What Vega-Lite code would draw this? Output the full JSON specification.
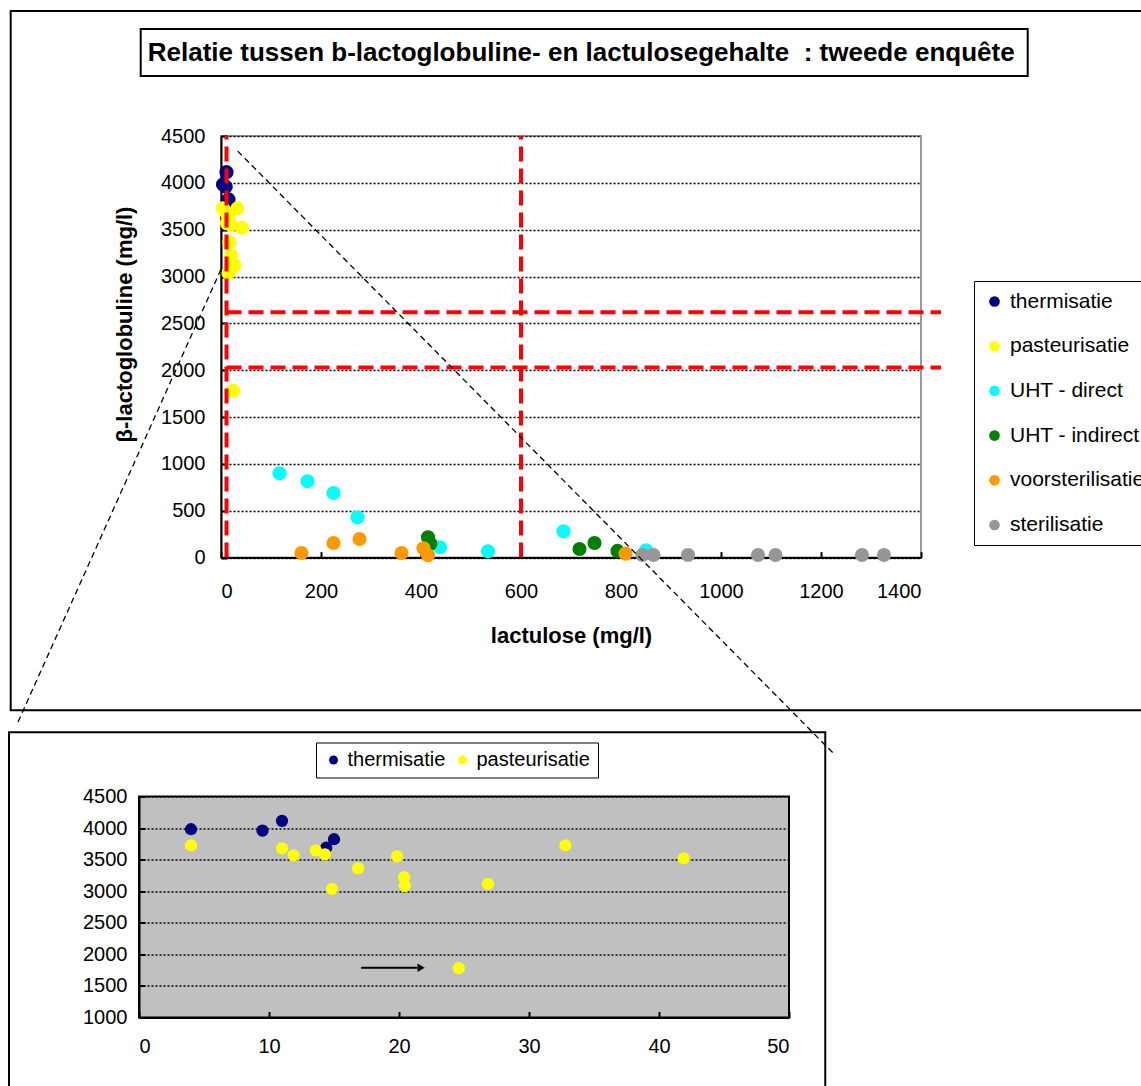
{
  "$schema": "https://vega.github.io/schema/vega-lite/v6.json",
  "background": "white",
  "padding": {"left": 7, "top": 9, "right": 0, "bottom": 0},
  "spacing": -25.5,
  "config": {
    "font": "Liberation Sans",
    "axis": {"labelColor": "black", "titleColor": "black", "labelFont": "Liberation Sans", "titleFont": "Liberation Sans", "labelOverlap": false, "format": "d"},
    "legend": {"labelFont": "Liberation Sans", "labelColor": "black"}
  },
  "datasets": {
    "milk": [
      {"lactulose": 4.0, "blg": 3982, "type": "thermisatie"},
      {"lactulose": 9.5, "blg": 3959, "type": "thermisatie"},
      {"lactulose": 11.0, "blg": 4114, "type": "thermisatie"},
      {"lactulose": 14.4, "blg": 3689, "type": "thermisatie"},
      {"lactulose": 15.0, "blg": 3823, "type": "thermisatie"},
      {"lactulose": 4.0, "blg": 3727, "type": "pasteurisatie"},
      {"lactulose": 11.0, "blg": 3680, "type": "pasteurisatie"},
      {"lactulose": 11.9, "blg": 3568, "type": "pasteurisatie"},
      {"lactulose": 13.6, "blg": 3648, "type": "pasteurisatie"},
      {"lactulose": 14.3, "blg": 3584, "type": "pasteurisatie"},
      {"lactulose": 14.85, "blg": 3037, "type": "pasteurisatie"},
      {"lactulose": 16.85, "blg": 3362, "type": "pasteurisatie"},
      {"lactulose": 19.85, "blg": 3552, "type": "pasteurisatie"},
      {"lactulose": 20.4, "blg": 3223, "type": "pasteurisatie"},
      {"lactulose": 20.45, "blg": 3085, "type": "pasteurisatie"},
      {"lactulose": 24.6, "blg": 1780, "type": "pasteurisatie"},
      {"lactulose": 26.85, "blg": 3117, "type": "pasteurisatie"},
      {"lactulose": 32.8, "blg": 3727, "type": "pasteurisatie"},
      {"lactulose": 41.9, "blg": 3521, "type": "pasteurisatie"},
      {"lactulose": 117, "blg": 900, "type": "UHT - direct"},
      {"lactulose": 173, "blg": 814, "type": "UHT - direct"},
      {"lactulose": 225, "blg": 690, "type": "UHT - direct"},
      {"lactulose": 273, "blg": 430, "type": "UHT - direct"},
      {"lactulose": 438, "blg": 110, "type": "UHT - direct"},
      {"lactulose": 534, "blg": 67, "type": "UHT - direct"},
      {"lactulose": 685, "blg": 281, "type": "UHT - direct"},
      {"lactulose": 850, "blg": 78, "type": "UHT - direct"},
      {"lactulose": 414, "blg": 217, "type": "UHT - indirect"},
      {"lactulose": 419, "blg": 148, "type": "UHT - indirect"},
      {"lactulose": 717, "blg": 92, "type": "UHT - indirect"},
      {"lactulose": 747, "blg": 156, "type": "UHT - indirect"},
      {"lactulose": 793, "blg": 71, "type": "UHT - indirect"},
      {"lactulose": 161, "blg": 49, "type": "voorsterilisatie"},
      {"lactulose": 225, "blg": 156, "type": "voorsterilisatie"},
      {"lactulose": 277, "blg": 199, "type": "voorsterilisatie"},
      {"lactulose": 361, "blg": 49, "type": "voorsterilisatie"},
      {"lactulose": 405, "blg": 99, "type": "voorsterilisatie"},
      {"lactulose": 414, "blg": 25, "type": "voorsterilisatie"},
      {"lactulose": 809, "blg": 42, "type": "voorsterilisatie"},
      {"lactulose": 843, "blg": 28, "type": "sterilisatie"},
      {"lactulose": 865, "blg": 28, "type": "sterilisatie"},
      {"lactulose": 934, "blg": 28, "type": "sterilisatie"},
      {"lactulose": 1074, "blg": 28, "type": "sterilisatie"},
      {"lactulose": 1109, "blg": 28, "type": "sterilisatie"},
      {"lactulose": 1282, "blg": 28, "type": "sterilisatie"},
      {"lactulose": 1326, "blg": 28, "type": "sterilisatie"}
    ],
    "lactuloseLimits": [{"lactulose": 11}, {"lactulose": 600}],
    "blgLimits": [{"blg": 2030}, {"blg": 2620}]
  },
  "resolve": {"scale": {"x": "independent", "y": "independent", "color": "independent"}, "legend": {"color": "independent"}},
  "vconcat": [
    {
      "spacing": -132,
      "resolve": {"scale": {"x": "independent", "y": "independent", "color": "independent"}, "legend": {"color": "independent"}},
      "hconcat": [
        {
          "width": 1,
          "height": 1,
          "view": {"stroke": null},
          "data": {"values": []},
          "mark": "point",
          "encoding": {}
        },
        {
          "width": 700,
          "height": 421.6,
          "view": {"stroke": "#999999", "strokeWidth": 2},
          "layer": [
            {
              "data": {"name": "milk"},
              "mark": {"type": "circle", "size": 200, "opacity": 1},
              "encoding": {
                "x": {
                  "field": "lactulose", "type": "quantitative",
                  "scale": {"domain": [0, 1400], "nice": false},
                  "axis": {
                    "title": "lactulose (mg/l)", "values": [0, 200, 400, 600, 800, 1000, 1200, 1400], "tickCount": 30,
                    "grid": false, "domainColor": "black", "domainWidth": 2,
                    "tickColor": "black", "tickSize": -6, "tickWidth": 2,
                    "labelFontSize": 20, "labelPadding": 30,
                    "titleFontSize": 22, "titleFontWeight": "bold", "titlePadding": 24
                  }
                },
                "y": {
                  "field": "blg", "type": "quantitative",
                  "scale": {"domain": [0, 4500], "nice": false},
                  "axis": {
                    "title": "β-lactoglobuline (mg/l)", "values": [0, 500, 1000, 1500, 2000, 2500, 3000, 3500, 4000, 4500], "tickCount": 30,
                    "grid": true, "gridColor": "black", "gridDash": [2, 2], "gridWidth": 1.3,
                    "domainColor": "black", "domainWidth": 2,
                    "tickColor": "black", "tickSize": -6, "tickWidth": 2,
                    "labelFontSize": 20, "labelPadding": 22,
                    "titleFontSize": 22, "titleFontWeight": "bold", "titlePadding": 24, "titleY": 188
                  }
                },
                "color": {
                  "field": "type", "type": "nominal",
                  "scale": {
                    "domain": ["thermisatie", "pasteurisatie", "UHT - direct", "UHT - indirect", "voorsterilisatie", "sterilisatie"],
                    "range": ["#000080", "#FFFF00", "#00FFFF", "#008000", "#FF9900", "#969696"]
                  },
                  "legend": {
                    "title": null, "orient": "none", "legendX": 753, "legendY": 145, "direction": "vertical",
                    "strokeColor": "black", "fillColor": "white", "padding": 10,
                    "labelFontSize": 21, "symbolSize": 113, "symbolType": "circle", "symbolStrokeWidth": 0,
                    "rowPadding": 22.7, "labelOffset": 5, "labelLimit": 300,
                    "encode": {"legend": {"update": {"strokeWidth": {"value": 2}}}}
                  }
                }
              }
            },
            {
              "data": {"values": [{}]},
              "mark": {"type": "rect", "fillOpacity": 0, "stroke": "black", "strokeWidth": 2, "clip": false},
              "encoding": {
                "x": {"datum": -420.6, "scale": {"domain": [0, 1400], "nice": false}},
                "x2": {"datum": 1903},
                "y": {"datum": 5834, "scale": {"domain": [0, 4500], "nice": false}},
                "y2": {"datum": -1629}
              }
            },
            {
              "data": {"values": [{}]},
              "mark": {"type": "rect", "fill": "white", "stroke": "black", "strokeWidth": 2, "clip": false},
              "encoding": {
                "x": {"datum": -160.6, "scale": {"domain": [0, 1400], "nice": false}},
                "x2": {"datum": 1613.4},
                "y": {"datum": 5642, "scale": {"domain": [0, 4500], "nice": false}},
                "y2": {"datum": 5140}
              }
            },
            {
              "data": {"values": [{}]},
              "mark": {"type": "text", "text": "Relatie tussen b-lactoglobuline- en lactulosegehalte\u00a0 : tweede enquête", "font": "Liberation Sans", "fontWeight": "bold", "fontSize": 26, "color": "black", "align": "center", "baseline": "middle", "clip": false},
              "encoding": {
                "x": {"datum": 720.4, "scale": {"domain": [0, 1400], "nice": false}},
                "y": {"datum": 5391, "scale": {"domain": [0, 4500], "nice": false}}
              }
            },
            {
              "data": {"name": "lactuloseLimits"},
              "mark": {"type": "rule", "color": "#FF0000", "strokeWidth": 4, "strokeDash": [15, 7], "clip": false},
              "encoding": {
                "x": {"field": "lactulose", "type": "quantitative", "scale": {"domain": [0, 1400], "nice": false}},
                "y": {"datum": 0, "scale": {"domain": [0, 4500], "nice": false}},
                "y2": {"datum": 4500}
              }
            },
            {
              "data": {"name": "blgLimits"},
              "mark": {"type": "rule", "color": "#FF0000", "strokeWidth": 4, "strokeDash": [15, 7], "clip": false},
              "encoding": {
                "y": {"field": "blg", "type": "quantitative", "scale": {"domain": [0, 4500], "nice": false}},
                "x": {"datum": 11, "scale": {"domain": [0, 1400], "nice": false}},
                "x2": {"datum": 1440}
              }
            },
            {
              "data": {"values": [{}]},
              "mark": {"type": "rule", "color": "black", "strokeWidth": 1.3, "strokeDash": [6, 4], "clip": false},
              "encoding": {
                "x": {"datum": 33.4, "scale": {"domain": [0, 1400], "nice": false}},
                "y": {"datum": 4339, "scale": {"domain": [0, 4500], "nice": false}},
                "x2": {"datum": 1223.4},
                "y2": {"datum": -2082}
              }
            },
            {
              "data": {"values": [{}]},
              "mark": {"type": "rule", "color": "black", "strokeWidth": 1.3, "strokeDash": [6, 4], "clip": false},
              "encoding": {
                "x": {"datum": 0, "scale": {"domain": [0, 1400], "nice": false}},
                "y": {"datum": 3077, "scale": {"domain": [0, 4500], "nice": false}},
                "x2": {"datum": -406.6},
                "y2": {"datum": -1762}
              }
            }
          ]
        }
      ]
    },
    {
      "width": 650,
      "height": 221,
      "view": {"fill": "#C0C0C0", "stroke": "black", "strokeWidth": 2},
      "layer": [
        {
          "data": {"name": "milk"},
          "transform": [{"filter": {"field": "type", "oneOf": ["thermisatie", "pasteurisatie"]}}],
          "mark": {"type": "circle", "size": 150, "opacity": 1},
          "encoding": {
            "x": {
              "field": "lactulose", "type": "quantitative",
              "scale": {"domain": [0, 50], "nice": false},
              "axis": {
                "title": null, "values": [0, 10, 20, 30, 40, 50], "tickCount": 30,
                "grid": false, "domainColor": "black", "domainWidth": 2,
                "tickColor": "black", "tickSize": -6, "tickWidth": 2,
                "labelFontSize": 20, "labelPadding": 25
              }
            },
            "y": {
              "field": "blg", "type": "quantitative",
              "scale": {"domain": [1000, 4500], "nice": false, "zero": false},
              "axis": {
                "title": null, "values": [1000, 1500, 2000, 2500, 3000, 3500, 4000, 4500], "tickCount": 30,
                "grid": true, "gridColor": "black", "gridDash": [2, 2], "gridWidth": 1.3,
                "domainColor": "black", "domainWidth": 2,
                "tickColor": "black", "tickSize": -6, "tickWidth": 2,
                "labelFontSize": 20, "labelPadding": 18
              }
            },
            "color": {
              "field": "type", "type": "nominal",
              "scale": {"domain": ["thermisatie", "pasteurisatie"], "range": ["#000080", "#FFFF00"]},
              "legend": {
                "title": null, "orient": "none", "legendX": 177, "legendY": -54, "direction": "horizontal",
                "strokeColor": "black", "fillColor": "white", "padding": 7.5,
                "labelFontSize": 20, "symbolSize": 80, "symbolType": "circle", "symbolStrokeWidth": 0,
                "columnPadding": 7, "labelOffset": 4,
                "encode": {"legend": {"update": {"strokeWidth": {"value": 2}}}}
              }
            }
          }
        },
        {
          "data": {"values": [{}]},
          "mark": {"type": "rect", "fillOpacity": 0, "stroke": "black", "strokeWidth": 2, "clip": false},
          "encoding": {
            "x": {"datum": -10.0, "scale": {"domain": [0, 50], "nice": false}},
            "x2": {"datum": 52.79},
            "y": {"datum": 5518, "scale": {"domain": [1000, 4500], "nice": false, "zero": false}},
            "y2": {"datum": -315}
          }
        },
        {
          "data": {"values": [{}]},
          "mark": {"type": "rule", "color": "black", "strokeWidth": 2},
          "encoding": {
            "x": {"datum": 17.08, "scale": {"domain": [0, 50], "nice": false}},
            "x2": {"datum": 21.4},
            "y": {"datum": 1787, "scale": {"domain": [1000, 4500], "nice": false, "zero": false}}
          }
        },
        {
          "data": {"values": [{}]},
          "mark": {"type": "point", "shape": "triangle-right", "filled": true, "color": "black", "size": 70, "opacity": 1},
          "encoding": {
            "x": {"datum": 21.7, "scale": {"domain": [0, 50], "nice": false}},
            "y": {"datum": 1787, "scale": {"domain": [1000, 4500], "nice": false, "zero": false}}
          }
        }
      ]
    }
  ]
}
